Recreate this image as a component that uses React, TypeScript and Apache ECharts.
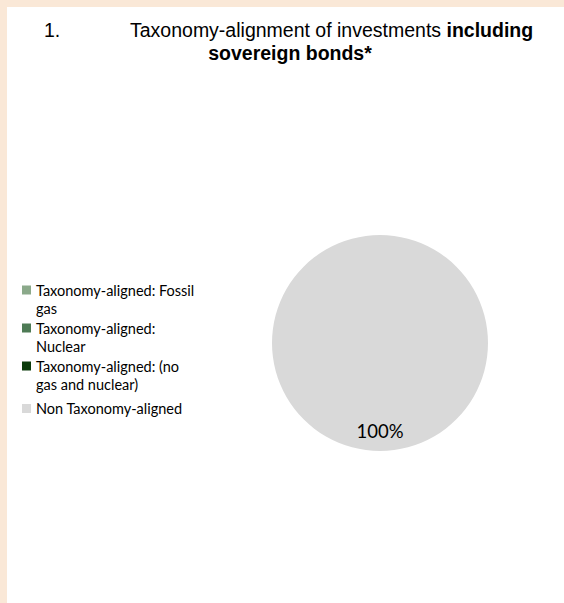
import React, { useEffect, useRef } from "react";
import * as echarts from "echarts";

const categories = [
  "Taxonomy-aligned: Fossil gas",
  "Taxonomy-aligned: Nuclear",
  "Taxonomy-aligned: (no gas and nuclear)",
  "Non Taxonomy-aligned",
];
const legendLabels = [
  "Taxonomy-aligned: Fossil\ngas",
  "Taxonomy-aligned:\nNuclear",
  "Taxonomy-aligned: (no\ngas and nuclear)",
  "Non Taxonomy-aligned",
];
const values = [0, 0, 0, 100];
const colors = ["#8BA98A", "#4E7B55", "#0B3B0B", "#D9D9D9"];

const titleNumber = "1.";
const titleNormal = "Taxonomy-alignment of investments ";
const titleBold1 = "including";
const titleBold2 = "sovereign bonds*";

// icon shapes: square aligned with first text line (two-line items) or centred (one-line item)
const ICON_TWO_LINE = "path://M0,0L9,0L9,9L0,9Z M0,27L0,27";
const ICON_ONE_LINE = "path://M0,9L9,9L9,18L0,18Z M0,0L0,0 M0,27L0,27";

export default function App() {
  const ref = useRef<HTMLDivElement>(null);
  useEffect(() => {
    document.body.style.margin = "0";
    const chart = echarts.init(ref.current!, null, { renderer: "svg" });
    const titleFont = "Liberation Sans, Arial, sans-serif";
    const bodyFont = "Lato, sans-serif";
    chart.setOption({
      animation: false,
      backgroundColor: "#ffffff",
      graphic: [
        { type: "rect", shape: { x: 0, y: 0, width: 564, height: 7 }, style: { fill: "#FAE8D7" } },
        { type: "rect", shape: { x: 0, y: 0, width: 7, height: 603 }, style: { fill: "#FAE8D7" } },
        {
          type: "text",
          x: 44,
          y: 30,
          style: {
            text: titleNumber,
            fontFamily: titleFont,
            fontSize: 19.5,
            fill: "#000",
            verticalAlign: "middle",
          },
        },
        {
          type: "text",
          x: 130,
          y: 30,
          style: {
            text: `{n|${titleNormal}}{b|${titleBold1}}`,
            verticalAlign: "middle",
            rich: {
              n: { fontFamily: titleFont, fontSize: 19.5, color: "#000" },
              b: { fontFamily: titleFont, fontSize: 19.5, fontWeight: "bold", color: "#000" },
            },
          },
        },
        {
          type: "text",
          x: 290,
          y: 53,
          style: {
            text: titleBold2,
            fontFamily: titleFont,
            fontSize: 19.5,
            fontWeight: "bold",
            fill: "#000",
            align: "center",
            verticalAlign: "middle",
          },
        },
      ],
      legend: {
        orient: "vertical",
        left: 22,
        top: 281,
        padding: 0,
        itemWidth: 9,
        itemHeight: 27,
        itemGap: 2,
        data: categories.map((c, i) => ({ name: c, icon: i < 3 ? ICON_TWO_LINE : ICON_ONE_LINE })),
        formatter: (name: string) => legendLabels[categories.indexOf(name)],
        textStyle: { fontFamily: bodyFont, fontSize: 14.5, color: "#000", lineHeight: 18 },
        selectedMode: false,
      },
      series: [
        {
          type: "pie",
          center: [380, 343],
          radius: [0, 108],
          startAngle: 90,
          clockwise: true,
          data: categories.map((c, i) => ({ name: c, value: values[i], itemStyle: { color: colors[i] } })),
          itemStyle: { borderWidth: 0 },
          label: {
            show: true,
            position: "inside",
            formatter: (p: any) => (p.value > 0 ? `${Math.round(p.percent)}%` : ""),
            fontFamily: bodyFont,
            fontSize: 18.5,
            color: "#000",
          },
          labelLayout: { dy: 31 },
          labelLine: { show: false },
          emphasis: { disabled: true },
        },
      ],
    });
    return () => chart.dispose();
  }, []);
  return <div ref={ref} style={{ width: 564, height: 603 }} />;
}
